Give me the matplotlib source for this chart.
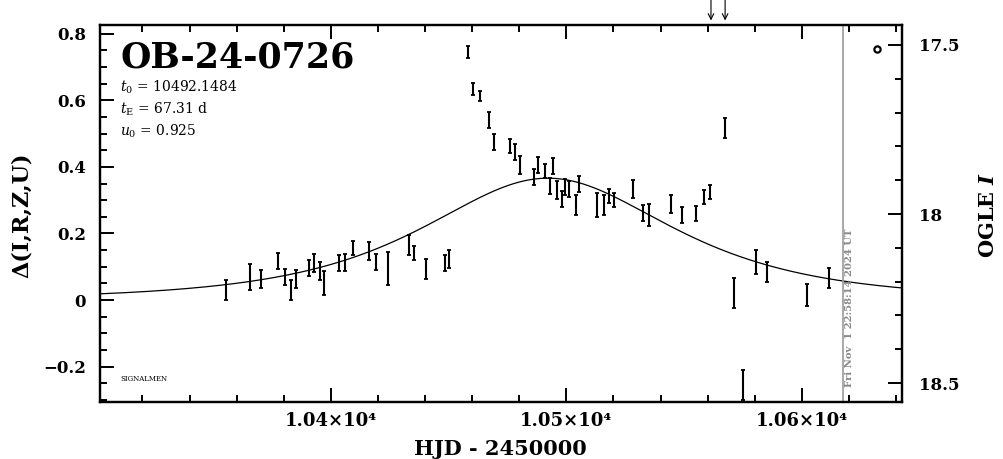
import numpy as np
import matplotlib
matplotlib.use("Agg")
import matplotlib.pyplot as plt
from matplotlib.ticker import MultipleLocator, FuncFormatter

# --- dados ---
event_name = "OB-24-0726"
t0 = 10492.1484
tE = 67.31
u0 = 0.925

hjd = [10355.3, 10365.5, 10370.4, 10377.4, 10380.5, 10383.3, 10385.3, 10390.7,
       10392.8, 10395.2, 10397.2, 10403.4, 10406.2, 10409.3, 10416.4, 10419.2,
       10424.3, 10433.4, 10435.3, 10440.2, 10448.4, 10450.1, 10458.3, 10460.5,
       10463.2, 10467.1, 10469.4, 10476.0, 10478.2, 10480.3, 10486.2, 10488.1,
       10490.9, 10493.0, 10494.3, 10496.2, 10498.1, 10499.5, 10501.2, 10504.1,
       10505.4, 10513.1, 10515.8, 10518.0, 10520.1, 10528.4, 10532.5, 10535.1,
       10544.3, 10549.2, 10555.2, 10558.5, 10560.9, 10567.2, 10571.2, 10575.2,
       10580.4, 10585.3, 10602.3, 10611.3]
delta = [0.030, 0.070, 0.062, 0.117, 0.070, 0.030, 0.062, 0.095,
         0.110, 0.088, 0.050, 0.112, 0.112, 0.155, 0.148, 0.115,
         0.095, 0.165, 0.140, 0.092, 0.110, 0.122, 0.746, 0.633,
         0.613, 0.541, 0.475, 0.462, 0.445, 0.405, 0.370, 0.405,
         0.387, 0.342, 0.402, 0.332, 0.305, 0.340, 0.334, 0.285,
         0.349, 0.285, 0.285, 0.314, 0.300, 0.334, 0.262, 0.255,
         0.290, 0.255, 0.260, 0.310, 0.325, 0.516, 0.020, -0.255,
         0.115, 0.085, 0.015, 0.067]
delta_err = [0.030, 0.039, 0.027, 0.024, 0.024, 0.030, 0.027, 0.024,
             0.027, 0.027, 0.036, 0.024, 0.025, 0.021, 0.027, 0.024,
             0.050, 0.030, 0.021, 0.030, 0.024, 0.027, 0.018, 0.018,
             0.015, 0.024, 0.024, 0.021, 0.024, 0.027, 0.024, 0.024,
             0.021, 0.024, 0.024, 0.027, 0.024, 0.024, 0.024, 0.030,
             0.024, 0.036, 0.030, 0.021, 0.021, 0.027, 0.024, 0.033,
             0.027, 0.024, 0.024, 0.021, 0.021, 0.030, 0.045, 0.045,
             0.036, 0.030, 0.033, 0.030]

hjd_circle = [10631.8]
delta_circle = [0.754]

hjd_arrows = [10561.4, 10567.4]
hjd_now = 10617.46
now_label = "Fri Nov  1 22:58:14 2024 UT"

# escala OGLE I a direita: I = mag_zero - mag_slope * delta
mag_zero = 18.2545
mag_slope = 0.985

x_limits = (10302, 10642.5)
y_limits = (-0.306, 0.826)

serif = "DejaVu Serif"


def pspl_delta_mag(t, t_zero, t_einstein, u_zero):
    u = np.sqrt(u_zero**2 + ((t - t_zero) / t_einstein) ** 2)
    amp = (u**2 + 2) / (u * np.sqrt(u**2 + 4))
    return 2.5 * np.log10(amp)


def delta_to_mag(d):
    return mag_zero - mag_slope * d


def fmt_x(v, _):
    return f"{v / 1e4:.2f}×10⁴"


def fmt_y(v, _):
    if abs(v) < 1e-9:
        return "0"
    return f"{v:.1f}".replace("-", "−")


def style_ticks(axis, labelsize=12):
    axis.tick_params(which="both", direction="in", width=1.4, labelsize=labelsize)
    axis.tick_params(which="major", length=10)
    axis.tick_params(which="minor", length=5)


def main():
    plt.rcParams["mathtext.fontset"] = "dejavuserif"
    fig = plt.figure(figsize=(10.04, 4.59), dpi=100)
    ax = fig.add_axes([100 / 1004, 1 - 402 / 459, 802 / 1004, 377 / 459])

    t_model = np.linspace(x_limits[0], x_limits[1], 600)
    ax.plot(t_model, pspl_delta_mag(t_model, t0, tE, u0), color="black", lw=0.9)

    ax.errorbar(hjd, delta, yerr=delta_err, fmt="none", ecolor="black",
                elinewidth=1.5, capsize=1.5, capthick=1.3)
    ax.plot(hjd_circle, delta_circle, "o", ms=4.5, mfc="white", mec="black", mew=1.6)

    ax.axvline(hjd_now, color="#999999", lw=1.2)
    ax.text(hjd_now + 1.0, -0.262, now_label, rotation=90, ha="left", va="bottom",
            color="#888888", fontsize=7.2, fontweight="bold", family=serif)

    for x in hjd_arrows:
        ax.annotate("", xy=(x, 1.012), xycoords=("data", "axes fraction"),
                    xytext=(x, 1.066), textcoords=("data", "axes fraction"),
                    arrowprops=dict(arrowstyle="->", color="black", lw=0.8,
                                    shrinkA=0, shrinkB=0))

    ax.set_xlim(*x_limits)
    ax.set_ylim(*y_limits)

    ax.xaxis.set_major_locator(MultipleLocator(100))
    ax.xaxis.set_minor_locator(MultipleLocator(20))
    ax.xaxis.set_major_formatter(FuncFormatter(fmt_x))
    ax.yaxis.set_major_locator(MultipleLocator(0.2))
    ax.yaxis.set_minor_locator(MultipleLocator(0.05))
    ax.yaxis.set_major_formatter(FuncFormatter(fmt_y))
    style_ticks(ax)
    ax.tick_params(which="both", top=True, right=False)
    ax.tick_params(axis="y", pad=10)
    ax.tick_params(axis="x", pad=7, labelsize=13)
    for lbl in ax.get_xticklabels() + ax.get_yticklabels():
        lbl.set_family(serif)
        lbl.set_fontweight("bold")
    for sp in ax.spines.values():
        sp.set_linewidth(1.6)

    # eixo OGLE I (linear, invertido)
    ax_mag = ax.twinx()
    ax_mag.set_ylim(delta_to_mag(y_limits[0]), delta_to_mag(y_limits[1]))
    ax_mag.yaxis.set_major_locator(MultipleLocator(0.5))
    ax_mag.yaxis.set_minor_locator(MultipleLocator(0.1))
    ax_mag.yaxis.set_major_formatter(FuncFormatter(lambda v, _: f"{v:g}"))
    style_ticks(ax_mag)
    ax_mag.tick_params(axis="y", pad=12)
    for lbl in ax_mag.get_yticklabels():
        lbl.set_family(serif)
        lbl.set_fontweight("bold")
    for sp in ax_mag.spines.values():
        sp.set_linewidth(1.6)

    ax.text(0.025, 0.913, event_name, transform=ax.transAxes, ha="left", va="center",
            fontsize=25, fontweight="bold", family=serif)
    params = [r"$t_{0}$ = " + f"{t0:.4f}",
              r"$t_{\rm E}$ = " + f"{tE:.2f} d",
              r"$u_{0}$ = " + f"{u0:.3f}"]
    for i, txt in enumerate(params):
        ax.text(0.025, 0.836 - i * 0.0585, txt, transform=ax.transAxes, ha="left",
                va="center", fontsize=10, family=serif)
    ax.text(0.025, 0.06, "SIGNALMEN", transform=ax.transAxes, ha="left", va="center",
            fontsize=5, family=serif)

    fig.text(500 / 1004, 1 - 449 / 459, "HJD - 2450000", ha="center", va="center",
             fontsize=15, fontweight="bold", family=serif)
    fig.text(22 / 1004, 1 - 215 / 459, "Δ(I,R,Z,U)", ha="center", va="center",
             rotation=90, fontsize=16, fontweight="bold", family=serif)
    fig.text(988 / 1004, 1 - 215 / 459, r"OGLE $\boldsymbol{I}$", ha="center",
             va="center", rotation=90, fontsize=15, fontweight="bold", family=serif)

    fig.savefig("out.png", dpi=100)


if __name__ == "__main__":
    main()
